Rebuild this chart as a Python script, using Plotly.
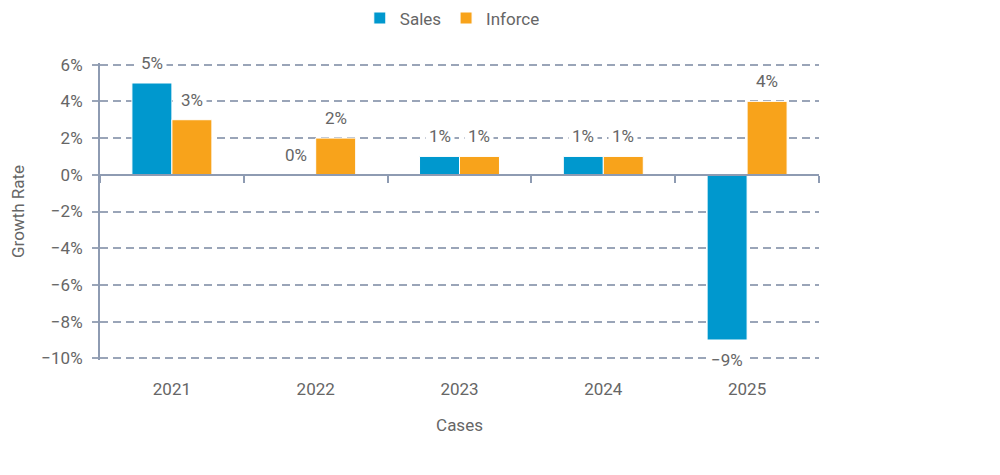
import plotly.graph_objects as go

years = ["2021", "2022", "2023", "2024", "2025"]
sales = [5, 0, 1, 1, -9]
inforce = [3, 2, 1, 1, 4]
y_ticks = [6, 4, 2, 0, -2, -4, -6, -8, -10]

SALES_COLOR = "#0098CE"
INFORCE_COLOR = "#F8A31B"
GRID = "#9AA5B8"
AXIS = "#8E9BB2"
TEXT = "#666666"
FONT = "Roboto"


def pct(v):
    return f"{v}%".replace("-", "\u2212")


xs = list(range(len(years)))

fig = go.Figure()
fig.add_trace(go.Bar(x=xs, y=sales, name="Sales", marker=dict(color=SALES_COLOR, line=dict(color="white", width=1))))
fig.add_trace(go.Bar(x=xs, y=inforce, name="Inforce", marker=dict(color=INFORCE_COLOR, line=dict(color="white", width=1))))
# dummy trace to carry the zero-line axis with category boundary ticks
fig.add_trace(go.Scatter(x=[None], y=[None], xaxis="x2", showlegend=False, hoverinfo="skip"))

# data labels with white background (they break the gridlines)
off = 0.139
annots = []
for i, (s, v) in enumerate(zip(sales, inforce)):
    for val, dx in ((s, -off), (v, off)):
        annots.append(dict(
            x=i + dx, y=val, xref="x", yref="y", text=pct(val), showarrow=False,
            yshift=20 if val >= 0 else -20, bgcolor="white", borderpad=3,
            font=dict(family=FONT, size=17, color=TEXT),
        ))

# pad so plotly still draws the gridlines at 6% and -10% (it clips those within 1px of the ends)
y_lo, y_hi = -10.09, 6.09
zero_pos = (0 - y_lo) / (y_hi - y_lo)

fig.update_layout(
    barmode="group",
    bargap=0.444,
    bargroupgap=0,
    width=1000, height=475,
    margin=dict(l=92, r=189, t=55, b=123, autoexpand=False),
    paper_bgcolor="white", plot_bgcolor="white",
    font=dict(family=FONT, size=17, color=TEXT),
    legend=dict(orientation="h", x=0.49, xanchor="center", y=1.15, yanchor="middle",
                font=dict(size=17, color=TEXT), itemwidth=30, traceorder="normal"),
    annotations=annots,
    xaxis=dict(
        range=[-0.5, 4.5], tickvals=xs, ticktext=years,
        showline=False, showgrid=False, zeroline=False,
        ticks="outside", ticklen=14, tickcolor="rgba(0,0,0,0)",
        title=dict(text="Cases", standoff=20, font=dict(size=17, color=TEXT)),
    ),
    xaxis2=dict(
        range=[-0.5, 4.5], overlaying="x", anchor="free", position=zero_pos,
        tickvals=[-0.5, 0.5, 1.5, 2.5, 3.5, 4.5], showticklabels=False,
        showline=True, linecolor=AXIS, linewidth=2,
        ticks="outside", ticklen=7, tickcolor=AXIS, tickwidth=1.5,
        showgrid=False, zeroline=False,
    ),
    yaxis=dict(
        range=[y_lo, y_hi], tickvals=y_ticks, ticktext=[pct(t) for t in y_ticks],
        showgrid=True, gridcolor=GRID, griddash="8px,5px", gridwidth=1.6,
        zeroline=False, showline=True, linecolor=AXIS, linewidth=2,
        ticks="outside", ticklen=6, tickcolor=GRID, tickwidth=1.6, ticklabelstandoff=6,
        title=dict(text="Growth Rate", standoff=12, font=dict(size=17, color=TEXT)),
    ),
)

fig.write_html("out.html")
